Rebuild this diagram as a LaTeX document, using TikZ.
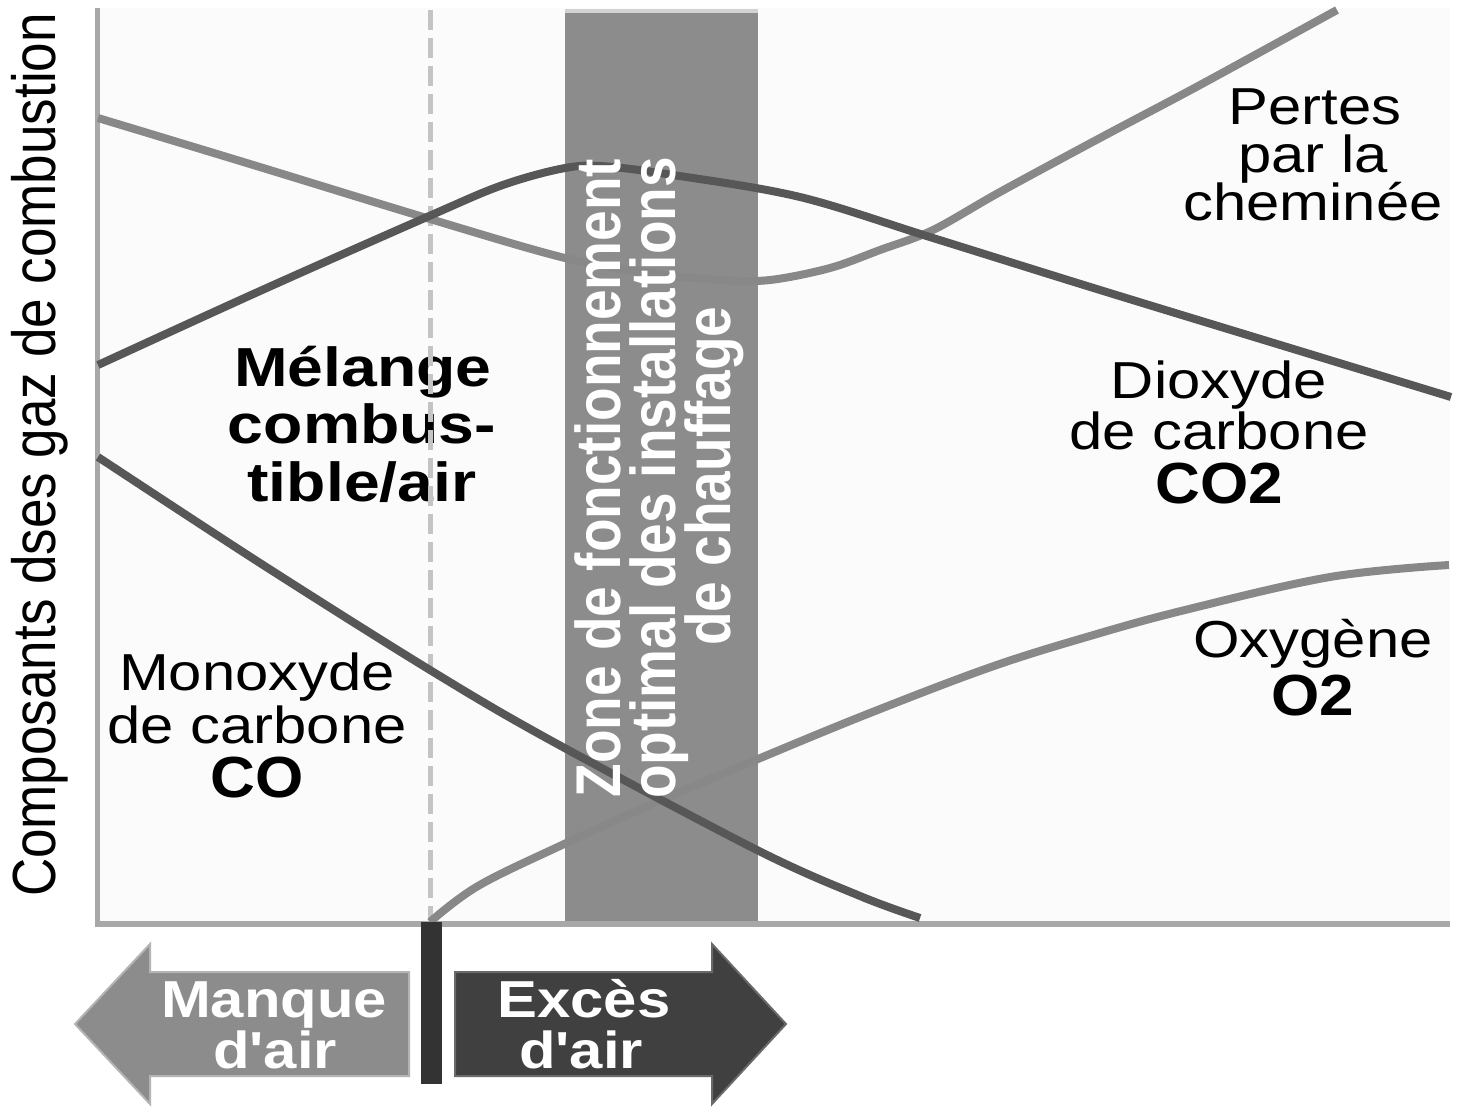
\documentclass[tikz,border=0pt]{standalone}
\usepackage{fontspec}
\newfontfamily\lib{Liberation Sans}
\definecolor{bandgray}{HTML}{8C8C8C}
\definecolor{bandrim}{HTML}{D2D2D2}
\definecolor{darkcurve}{HTML}{575757}
\definecolor{lightcurve}{HTML}{888888}
\definecolor{axisgray}{HTML}{A8A8A8}
\definecolor{dashgray}{HTML}{C4C4C4}
\definecolor{plotbg}{HTML}{FBFBFB}
\definecolor{arrowlight}{HTML}{8C8C8C}
\definecolor{arrowlightrim}{HTML}{B4B4B4}
\definecolor{arrowdark}{HTML}{404040}
\definecolor{arrowdarkrim}{HTML}{6A6A6A}
\definecolor{bardark}{HTML}{333333}
\begin{document}
\begin{tikzpicture}[x=1pt,y=-1pt,
  lbl/.style={font=\lib\fontsize{52}{48}\selectfont, anchor=base, xscale=1.15, inner sep=0pt},
  lblbig/.style={font=\lib\bfseries\fontsize{55}{55}\selectfont, anchor=base, xscale=1.17, inner sep=0pt},
  formula/.style={font=\lib\bfseries\fontsize{58}{58}\selectfont, anchor=base, xscale=1.07, inner sep=0pt},
  bandtxt/.style={font=\lib\bfseries\fontsize{55}{55}\selectfont, text=white, anchor=base, xscale=1.15, rotate=90, inner sep=0pt},
  axistxt/.style={font=\lib\fontsize{53}{53}\selectfont, anchor=base, xscale=1.15, rotate=90, inner sep=0pt},
  arrtxt/.style={font=\lib\bfseries\fontsize{52}{52}\selectfont, text=white, anchor=base, xscale=1.15, inner sep=0pt},
  curvedark/.style={draw=darkcurve, line width=8pt, line join=round},
  curvelight/.style={draw=lightcurve, line width=8pt, line join=round}
]
\useasboundingbox (0,0) rectangle (1460,1109);
\fill[white] (0,0) rectangle (1460,1109);
% plot area
\fill[plotbg] (98,8) rectangle (1450,922);
% optimal band
\fill[bandgray] (565,10) rectangle (758,922);
\draw[bandrim, line width=4pt] (565,11) -- (758,11);
% Melange label (under dashed line)
\node[lblbig] (mel1) at (363,386) {Mélange};
\node[lblbig] (mel2) at (362,443) {combus-};
\node[lblbig] (mel3) at (362,501) {tible/air};
% dashed stoichiometric line
\draw[dashgray, line width=5pt, dash pattern=on 20pt off 8pt] (430,10) -- (430,920);
% axes
\draw[axisgray, line width=5pt] (97.5,8) -- (97.5,927);
\draw[axisgray, line width=6pt] (95,924) -- (1450,924);
% curves
\draw[curvelight] plot[smooth, tension=0.55] coordinates {(98,118) (250,164) (430,219) (565,258) (650,273) (720,280) (770,280) (830,268) (880,250) (933,230) (1000,192) (1100,138) (1200,85) (1337,10)};
\draw[curvelight] plot[smooth, tension=0.6] coordinates {(430,922) (478,886) (562,845) (650,805) (758,759) (870,713) (991,667) (1090,636) (1185,610) (1330,577) (1449,565)};
\draw[curvedark] plot[smooth, tension=0.55] coordinates {(98,365) (260,291) (427,217) (500,186) (560,169) (600,166) (673,175) (800,197) (933,238) (1100,290) (1300,351) (1451,397)};
\draw[curvedark] plot[smooth, tension=0.55] coordinates {(98,457) (260,563) (430,670) (550,740) (757,850) (860,896) (920,918)};
% band text
\node[bandtxt] (band1) at (620,478) {Zone de fonctionnement};
\node[bandtxt] (band2) at (675,478) {optimal des installations};
\node[bandtxt] (band3) at (730,476) {de chauffage};
% y axis label
\node[axistxt] (ylab) at (55,455) {Composants dses gaz de combustion};
% curve labels
\node[lbl] (pert1) at (1315,124) {Pertes};
\node[lbl] (pert2) at (1313,172) {par la};
\node[lbl] (pert3) at (1313,220) {cheminée};
\node[lbl] (dio1) at (1219,398) {Dioxyde};
\node[lbl] (dio2) at (1219,449) {de carbone};
\node[formula] (dio3) at (1219,503) {CO2};
\node[lbl] (oxy1) at (1313,657) {Oxygène};
\node[formula] (oxy2) at (1313,715) {O2};
\node[lbl] (mon1) at (257,690) {Monoxyde};
\node[lbl] (mon2) at (257,743) {de carbone};
\node[formula] (mon3) at (257,797) {CO};
% bottom arrows
\filldraw[fill=arrowlight, draw=arrowlightrim, line width=2pt] (75,1024) -- (150,944) -- (150,972) -- (409,972) -- (409,1076) -- (150,1076) -- (150,1104) -- cycle;
\filldraw[fill=arrowdark, draw=arrowdarkrim, line width=2pt] (786,1024) -- (712,944) -- (712,972) -- (455,972) -- (455,1076) -- (712,1076) -- (712,1104) -- cycle;
\fill[bardark] (421,922) rectangle (442,1084);
\node[arrtxt] (manq1) at (274,1017) {Manque};
\node[arrtxt] (manq2) at (275,1068) {d'air};
\node[arrtxt] (exc1) at (584,1017) {Excès};
\node[arrtxt] (exc2) at (581,1068) {d'air};
\end{tikzpicture}
\end{document}
